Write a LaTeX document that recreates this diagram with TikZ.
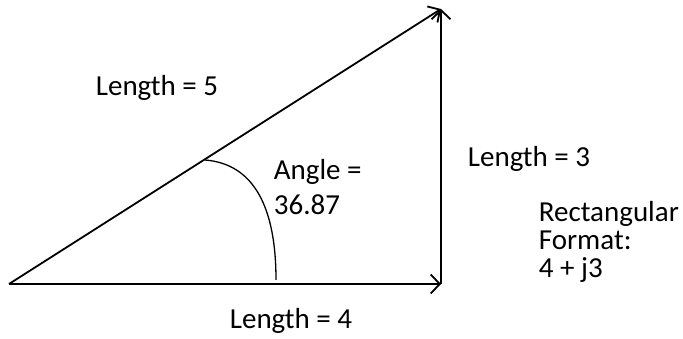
\documentclass[tikz,border=0pt]{standalone}
\usepackage{fontspec}
\setmainfont{Carlito}
\usetikzlibrary{arrows.meta}

\begin{document}
\begin{tikzpicture}[x=1pt, y=1pt, >={Straight Barb[length=9pt,width=19pt]}, line width=1.8pt]
    \tikzset{lbl/.style={anchor=base west, inner sep=0pt, align=left, font=\fontsize{29}{28}\selectfont}}
    \useasboundingbox (0,0) rectangle (683,339);

    % Corners of the triangle
    \coordinate (origin) at (9,55);
    \coordinate (real) at (441,55);
    \coordinate (tip) at (441,330);

    % Sides of the triangle
    \draw[->] (origin) -- (real);
    \draw[->] (real) -- (tip);
    \draw[->] (origin) -- (tip);

    % Angle arc
    \draw[line width=1.3pt] (276,59) .. controls (276,130) and (255,175) .. (205,179);

    % Labels (base = baseline of the last line)
    \node[lbl] (hyp) at (95,243) {Length = 5};
    \node[lbl, font=\fontsize{29}{35}\selectfont] (angle) at (273,124) {Angle =\\36.87};
    \node[lbl] (imag) at (467,172) {Length = 3};
    \node[lbl] (rect) at (538,61) {Rectangular\\Format:\\4 + j3};
    \node[lbl] (re) at (229,10) {Length = 4};
\end{tikzpicture}
\end{document}
